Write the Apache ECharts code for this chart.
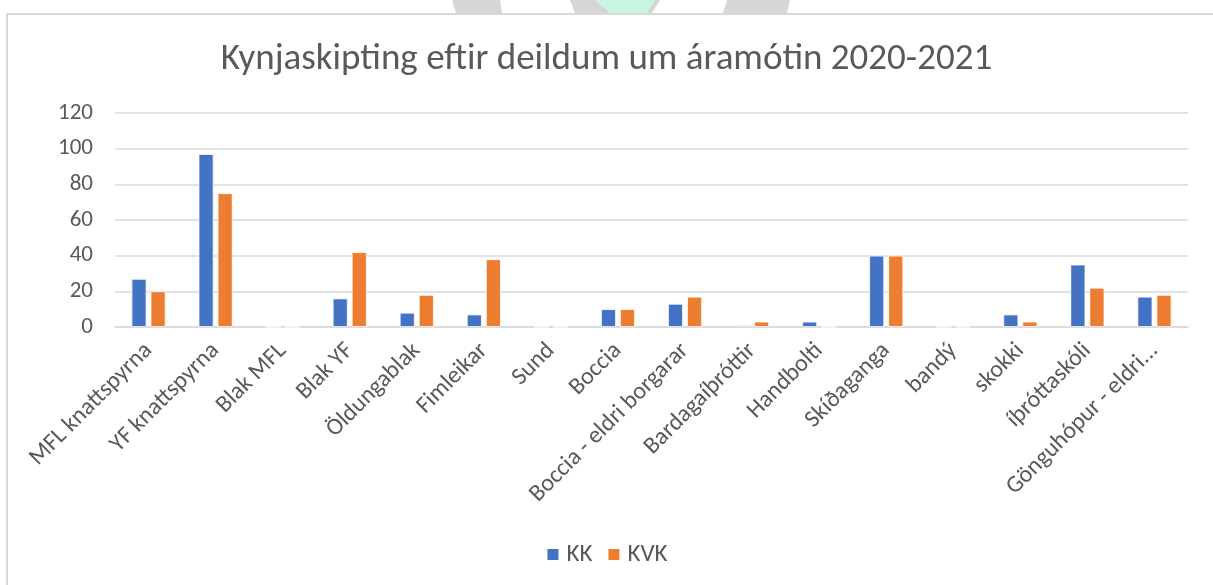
<!DOCTYPE html>
<html>
<head>
<meta charset="utf-8">
<script src="https://cdn.jsdelivr.net/npm/echarts@6/dist/echarts.min.js"></script>
<style>
html,body{margin:0;padding:0;background:#fff;}
#chart{width:1213px;height:585px;}
</style>
</head>
<body>
<div id="chart"></div>
<script>
const categories = ["MFL knattspyrna","YF knattspyrna","Blak MFL","Blak YF","Öldungablak","Fimleikar","Sund","Boccia","Boccia - eldri borgarar","Bardagaíþróttir","Handbolti","Skíðaganga","bandý","skokki","íþróttaskóli","Gönguhópur - eldri..."];
const kk  = [27, 97, 0, 16, 8, 7, 0, 10, 13, 1, 3, 40, 0, 7, 35, 17];
const kvk = [20, 75, 0, 42, 18, 38, 0, 10, 17, 3, 0, 40, 0, 3, 22, 18];
const seriesNames = ["KK", "KVK"];
const titleText = "Kynjaskipting eftir deildum um áramótin 2020-2021";

const FONT = "Carlito, Lato, 'Open Sans', sans-serif";
const TXT = "#595959";
const chart = echarts.init(document.getElementById('chart'), null, {renderer: 'canvas'});
chart.setOption({
  animation: false,
  backgroundColor: '#ffffff',
  textStyle: {fontFamily: FONT},
  graphic: [
    {type: 'polygon', z: 1, shape: {points: [[452,0],[500,0],[502,13],[456,13]]}, style: {fill: '#d6d6d6'}, silent: true},
    {type: 'polygon', z: 1, shape: {points: [[570,0],[660,0],[652,13],[575,13]]}, style: {fill: '#d6d6d6'}, silent: true},
    {type: 'polygon', z: 2, shape: {points: [[595,0],[655,0],[647,13],[610,13]]}, style: {fill: '#c8f5de'}, silent: true},
    {type: 'polygon', z: 1, shape: {points: [[727,0],[790,0],[787,13],[723,13]]}, style: {fill: '#d6d6d6'}, silent: true},
    {type: 'rect', z: 3, shape: {x: 7, y: 14, width: 1220, height: 600}, style: {fill: 'none', stroke: '#d9d9d9', lineWidth: 2}, silent: true}
  ],
  title: {
    text: titleText,
    left: 'center',
    top: 36,
    textStyle: {fontFamily: FONT, fontSize: 37, fontWeight: 'normal', color: TXT}
  },
  legend: {
    data: seriesNames,
    bottom: 13,
    left: 'center',
    icon: 'rect',
    itemWidth: 13,
    itemHeight: 13,
    itemGap: 14,
    textStyle: {fontFamily: FONT, fontSize: 25, color: TXT, padding: [0, 0, 0, 2]}
  },
  grid: {left: 115, right: 25, top: 113, bottom: 258, containLabel: false},
  xAxis: {
    type: 'category',
    data: categories,
    axisLine: {show: true, lineStyle: {color: '#d9d9d9', width: 1.5}},
    axisTick: {show: false},
    axisLabel: {rotate: 45, margin: 20, interval: 0, color: TXT, fontFamily: FONT, fontSize: 24}
  },
  yAxis: {
    type: 'value',
    min: 0,
    max: 120,
    interval: 20,
    axisLine: {show: false},
    axisTick: {show: false},
    axisLabel: {margin: 22, color: TXT, fontFamily: FONT, fontSize: 23},
    splitLine: {lineStyle: {color: '#d9d9d9', width: 1.5}}
  },
  series: [
    {name: seriesNames[0], type: 'bar', data: kk, barWidth: 15, barGap: '27%',
     itemStyle: {color: '#4472c4', borderColor: '#ffffff', borderWidth: 0.8}},
    {name: seriesNames[1], type: 'bar', data: kvk, barWidth: 15,
     itemStyle: {color: '#ed7d31', borderColor: '#ffffff', borderWidth: 0.8}}
  ]
});
</script>
</body>
</html>
